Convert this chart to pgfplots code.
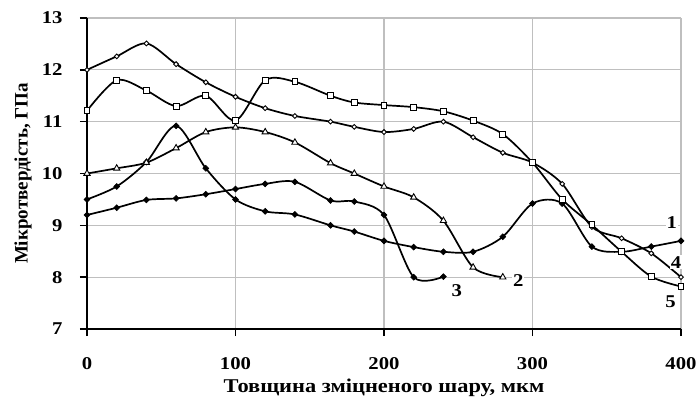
\documentclass[border=0pt]{standalone}
\usepackage{fontspec}
\setmainfont{Liberation Serif}
\newfontfamily\stretchfont[FakeStretch=1.15]{Liberation Serif}
\usepackage{pgfplots}
\pgfplotsset{compat=1.18}
\definecolor{gridgray}{HTML}{BFBFBF}
\begin{document}
\begin{tikzpicture}
\useasboundingbox (-87pt,-70pt) rectangle (612pt,329pt);
\begin{axis}[at={(0pt,0pt)}, anchor=south west, scale only axis,
  width=594pt, height=311pt,
  xmin=0, xmax=400, ymin=7, ymax=13,
  xtick={0,100,200,300,400}, ytick={7,8,9,10,11,12,13},
  axis x line=bottom, axis y line=left,
  axis line style={black, line width=2pt, -},
  grid=major, grid style={draw=gridgray, line width=1.2pt},
  tick align=outside, major tick length=7pt,
  tick style={black, line width=1.6pt},
  /pgf/number format/assume math mode=true,
  ticklabel style={font=\fontsize{18}{18}\selectfont\stretchfont\bfseries},
  xticklabel style={anchor=north, yshift=-18pt},
  yticklabel style={anchor=east, xshift=-14pt},
  xlabel={Товщина зміцненого шару, мкм},
  ylabel={Мікротвердість, ГПа},
  every axis x label/.style={at={(rel axis cs:0.5,0)}, anchor=center, yshift=-59pt,
     font=\fontsize{19.5}{19.5}\selectfont\stretchfont\bfseries},
  every axis y label/.style={at={(rel axis cs:0,0.5)}, xshift=-64pt, rotate=90, anchor=center,
     font=\fontsize{19}{19}\selectfont\bfseries},
  clip=false,
  every axis plot/.append style={black, line width=1.7pt, smooth},
]
% curve 1
\addplot[mark=square*, mark size=2.1pt, mark options={rotate=45, fill=black, line width=0.6pt, solid}] coordinates {
(0,9.5) (20,9.75) (40,10.22) (60,10.92) (80,10.1) (100,9.5) (120,9.27) (140,9.21) (164,9.0) (180,8.88) (200,8.7) (220,8.58) (240,8.49) (260,8.49) (280,8.78) (300,9.42) (320,9.42) (340,8.59) (360,8.49) (380,8.59) (400,8.7)};
% curve 3
\addplot[mark=square*, mark size=2.1pt, mark options={rotate=45, fill=black, line width=0.6pt, solid}] coordinates {
(0,9.2) (20,9.34) (40,9.49) (60,9.52) (80,9.6) (100,9.7) (120,9.8) (140,9.84) (164,9.48) (180,9.46) (200,9.2) (220,8.0) (240,8.01)};
% curve 2
\addplot[mark=triangle*, mark size=3.6pt, mark options={fill=white, line width=0.9pt, solid}] coordinates {
(0,10.0) (20,10.1) (40,10.21) (60,10.49) (80,10.8) (100,10.89) (120,10.8) (140,10.6) (164,10.2) (180,10.0) (200,9.75) (220,9.54) (240,9.09) (260,8.19) (280,8.0)};
% curve 4
\addplot[mark=square*, mark size=1.7pt, mark options={rotate=45, fill=white, line width=0.9pt, solid}] coordinates {
(0,12.0) (20,12.26) (40,12.51) (60,12.11) (80,11.76) (100,11.48) (120,11.26) (140,11.11) (164,11.0) (180,10.9) (200,10.8) (220,10.86) (240,11.0) (260,10.7) (280,10.4) (300,10.21) (320,9.8) (340,8.97) (360,8.75) (380,8.46) (400,8.0)};
% curve 5
\addplot[mark=square*, mark size=2.9pt, mark options={fill=white, line width=0.9pt, solid}] coordinates {
(0,11.21) (20,11.8) (40,11.6) (60,11.3) (80,11.5) (100,11.02) (120,11.8) (140,11.77) (164,11.5) (180,11.37) (200,11.32) (220,11.28) (240,11.2) (260,11.02) (280,10.76) (300,10.21) (320,9.5) (340,9.01) (360,8.49) (380,8.01) (400,7.82)};
\begin{scope}[every node/.style={font=\fontsize{18}{18}\selectfont\stretchfont\bfseries, fill=white, inner sep=1pt}]
\node at (axis cs:393.8,9.06) {1};
\node at (axis cs:290.4,7.94) {2};
\node at (axis cs:249,7.74) {3};
\node at (axis cs:396.6,8.29) {4};
\node at (axis cs:393,7.53) {5};
\end{scope}
\end{axis}
\end{tikzpicture}
\end{document}
